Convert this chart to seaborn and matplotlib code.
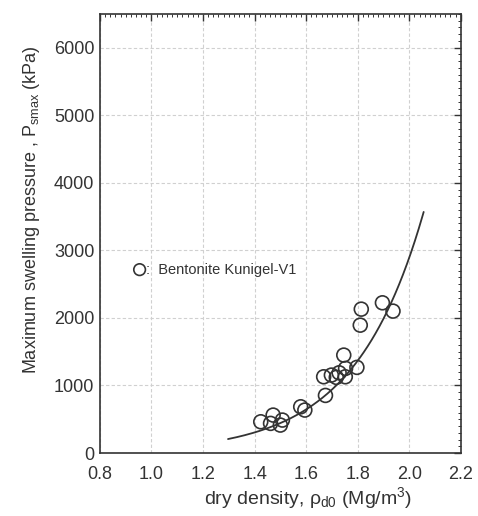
import numpy as np
import pandas as pd
import matplotlib
matplotlib.use("Agg")
import matplotlib.pyplot as plt
import seaborn as sns
from matplotlib.ticker import MultipleLocator

# data
dry_density = [1.424, 1.472, 1.462, 1.500, 1.508, 1.579, 1.595, 1.675, 1.668,
               1.698, 1.717, 1.728, 1.752, 1.753, 1.746, 1.797, 1.810, 1.814,
               1.896, 1.937]
swelling_pressure = [463, 562, 439, 414, 488, 685, 636, 853, 1129,
                     1154, 1120, 1188, 1129, 1253, 1450, 1268, 1893, 2130,
                     2224, 2101]
# fitted exponential curve parameters (P = a * exp(b * rho))
fit_a = 1.6
fit_b = 3.75
fit_range = [1.297, 2.056]

series_label = "Bentonite Kunigel-V1"
x_ticks = [0.8, 1.0, 1.2, 1.4, 1.6, 1.8, 2.0, 2.2]
y_ticks = [0, 1000, 2000, 3000, 4000, 5000, 6000]

sns.set_theme(style="white")
plt.rcParams['font.family'] = ['Liberation Sans', 'DejaVu Sans']
plt.rcParams['mathtext.fontset'] = 'custom'
plt.rcParams['mathtext.rm'] = 'Liberation Sans'
plt.rcParams['mathtext.it'] = 'Liberation Sans'
plt.rcParams['mathtext.sf'] = 'Liberation Sans'

df = pd.DataFrame({"x": dry_density, "y": swelling_pressure})

fig = plt.figure(figsize=(4.78, 5.16), dpi=100)
ax = fig.add_axes([0.209, 0.122, 0.755, 0.851])

xf = np.linspace(fit_range[0], fit_range[1], 200)
yf = fit_a * np.exp(fit_b * xf)
sns.lineplot(x=xf, y=yf, ax=ax, color="#333333", lw=1.3)

sns.scatterplot(data=df, x="x", y="y", ax=ax, marker="o", s=100,
                facecolors="none", edgecolor="#333333", linewidth=1.2, zorder=3)

ax.set_xlim(0.8, 2.2)
ax.set_ylim(0, 6500)
ax.set_xticks(x_ticks)
ax.set_xticklabels([f"{v:.1f}" for v in x_ticks])
ax.set_yticks(y_ticks)
ax.set_yticklabels([str(v) for v in y_ticks])
ax.xaxis.set_minor_locator(MultipleLocator(0.02))
ax.yaxis.set_minor_locator(MultipleLocator(100))
ax.tick_params(which="both", direction="in", top=True, right=True, color="#333333")
ax.tick_params(which="major", length=5, width=1, labelsize=13, colors="#333333")
ax.tick_params(axis="x", which="major", pad=9)
ax.tick_params(axis="y", which="major", pad=4)
ax.tick_params(which="minor", length=2.5, width=0.7)
ax.grid(True, which="major", linestyle=(0, (3, 2)), color="#d0d0d0", lw=0.8)
for s in ax.spines.values():
    s.set_color("#333333")
    s.set_linewidth(1.2)

ax.set_xlabel(r"dry density, $\rho_{d0}$ (Mg/m$^3$)", fontsize=14, color="#333333")
ax.xaxis.set_label_coords(0.577, -0.072)
ax.set_ylabel(r"Maximum swelling pressure , P$_{\rm smax}$ (kPa)", fontsize=13, color="#333333")
ax.yaxis.set_label_coords(-0.16, 0.555)

# legend-style annotation inside the plot
ax.scatter([0.954], [2715], s=70, facecolors="none", edgecolors="#333333", linewidths=1.2)
ax.text(0.978, 2715, ":  " + series_label, fontsize=10.5, color="#333333", va="center", ha="left")

fig.savefig("out.png", dpi=100)
